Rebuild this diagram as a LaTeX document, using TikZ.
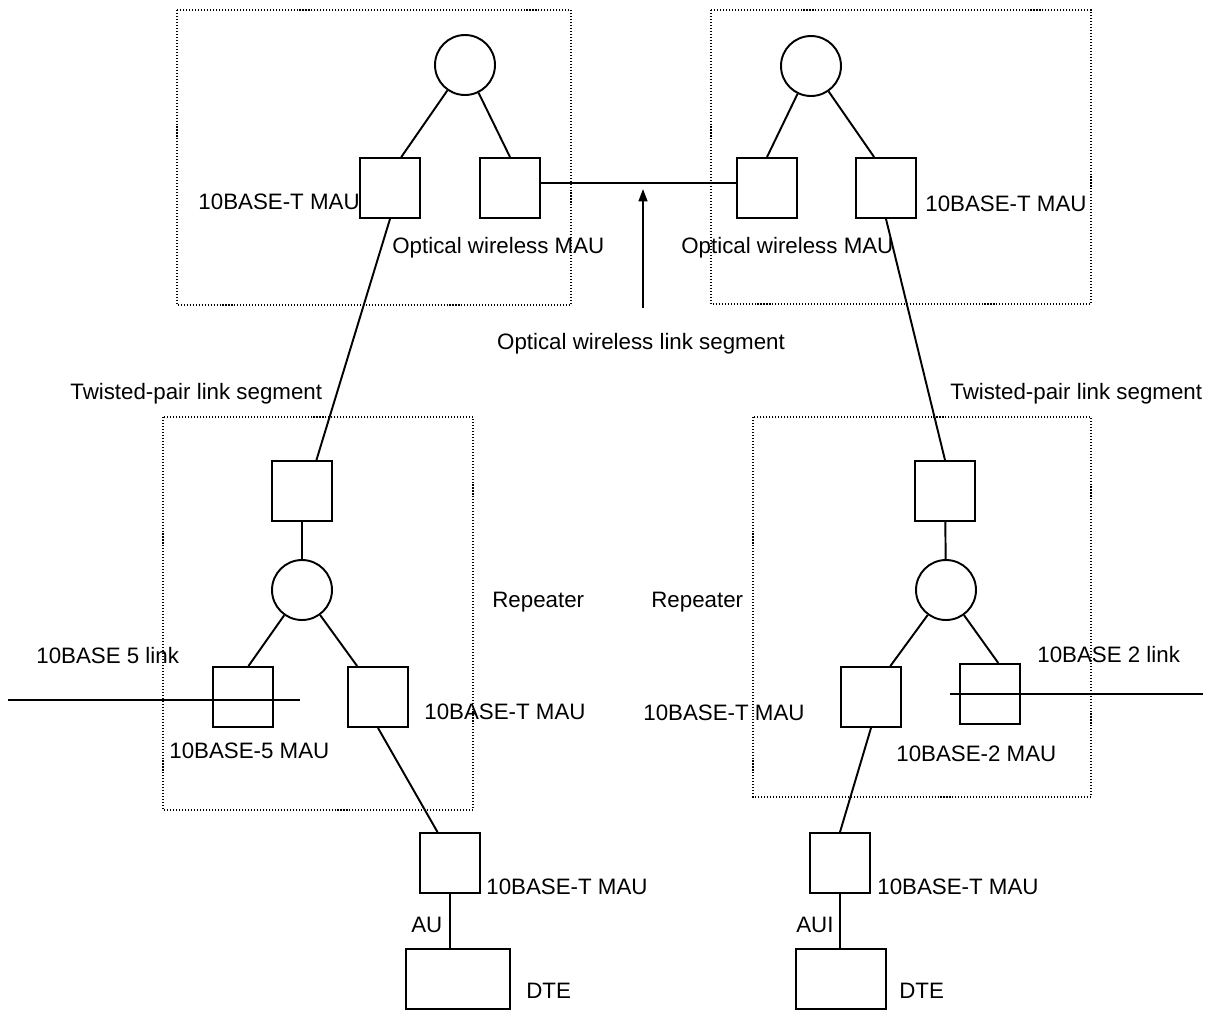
\documentclass[tikz,border=0pt]{standalone}
\usepackage{fontspec}
\setmainfont{Liberation Sans}
\usetikzlibrary{arrows.meta}

\begin{document}
\begin{tikzpicture}[x=0.02cm,y=-0.02cm,
	font=\fontsize{12.7}{15}\selectfont,
	mau/.style={draw,line width=1.1pt,minimum size=1.2cm,inner sep=0},
	hub/.style={draw,circle,line width=1.1pt,minimum size=1.2cm,inner sep=0},
	dte/.style={draw,line width=1.1pt,minimum height=1.2cm,inner sep=0},
	grp/.style={line width=0.6pt,dash pattern=on 0.6pt off 1.1pt},
	wire/.style={line width=1.1pt},
	lbl/.style={inner sep=0,anchor=west}]
	\useasboundingbox (0,0) rectangle (1215,1012);

	% dotted frames
	\draw[grp] (177,10) rectangle (571,305);
	\draw[grp] (711,10) rectangle (1091,304);
	\draw[grp] (163,417) rectangle (473,810);
	\draw[grp] (753,417) rectangle (1091,797);

	% upper pair
	\node[hub] (hubtl) at (465,65) {};
	\node[mau] (tpa) at (390,188) {};
	\node[mau] (owa) at (510,188) {};
	\node[hub] (hubtr) at (811,66) {};
	\node[mau] (owb) at (767,188) {};
	\node[mau] (tpb) at (886,188) {};

	% repeaters
	\node[mau] (reptl) at (302,491) {};
	\node[hub] (hubl) at (302,590) {};
	\node[mau] (thick) at (243,697) {};
	\node[mau] (reptlb) at (378,697) {};
	\node[mau] (reptr) at (945,491) {};
	\node[hub] (hubr) at (946,590) {};
	\node[mau] (reptrb) at (871,697) {};
	\node[mau] (thin) at (990,694) {};

	% stations
	\node[mau] (staa) at (450,863) {};
	\node[dte,minimum width=2.08cm] (dtea) at (458,979) {};
	\node[mau] (stab) at (840,863) {};
	\node[dte,minimum width=1.8cm] (dteb) at (841,979) {};

	\coordinate (wlfoot) at (643,308);
	\coordinate (wlhead) at (643,189);
	\coordinate (coaxa) at (8,700);
	\coordinate (coaxb) at (300,700);
	\coordinate (coaxc) at (950,694);
	\coordinate (coaxd) at (1203,694);

	\draw[wire] (hubtl) -- (tpa.70);
	\draw[wire] (hubtl) -- (owa.north);
	\draw[wire] (hubtr) -- (owb.north);
	\draw[wire] (hubtr) -- (tpb.111);
	\draw[wire] (owa.10) -- (owb.170);
	\draw[wire,-{Triangle[length=7pt,width=5pt]}] (wlfoot) -- (wlhead);
	\draw[wire] (tpa.south) -- (reptl.65);
	\draw[wire] (tpb.south) -- (reptr.north);
	\draw[wire] (reptl) -- (hubl);
	\draw[wire] (hubl) -- (thick.80);
	\draw[wire] (hubl) -- (reptlb.124);
	\draw[wire] (reptr) -- (hubr);
	\draw[wire] (hubr) -- (reptrb.58);
	\draw[wire] (hubr) -- (thin.75);
	\draw[wire] (coaxa) -- (coaxb);
	\draw[wire] (coaxc) -- (coaxd);
	\draw[wire] (reptlb.south) -- (staa.112);
	\draw[wire] (reptrb.south) -- (stab.north);
	\draw[wire] (staa.south) -- (staa.south |- dtea.north);
	\draw[wire] (stab.south) -- (stab.south |- dteb.north);

	% labels
	\node[lbl,anchor=east] (ltpa) at (360,202) {10BASE-T MAU};
	\node[lbl] (lowa) at (392,248) {Optical wireless MAU};
	\node[lbl] (lowb) at (681,248) {Optical wireless MAU};
	\node[lbl] (ltpb) at (925,204) {10BASE-T MAU};
	\node[lbl,anchor=center] (lwl) at (641,344) {Optical wireless link segment};
	\node[lbl] (ltwa) at (70,394) {Twisted-pair link segment};
	\node[lbl] (ltwb) at (950,394) {Twisted-pair link segment};
	\node[lbl] (lrpa) at (492,602) {Repeater};
	\node[lbl] (lrpb) at (651,602) {Repeater};
	\node[lbl] (lcxa) at (36,656) {10BASE 5 link};
	\node[lbl] (lthick) at (169,751) {10BASE-5 MAU};
	\node[lbl] (lrptl) at (424,712) {10BASE-T MAU};
	\node[lbl] (lcxb) at (1037,655) {10BASE 2 link};
	\node[lbl] (lthin) at (896,754) {10BASE-2 MAU};
	\node[lbl] (lrptr) at (643,713) {10BASE-T MAU};
	\node[lbl] (lstaa) at (486,887) {10BASE-T MAU};
	\node[lbl] (lstab) at (877,887) {10BASE-T MAU};
	\node[lbl] (laua) at (411,925) {AU};
	\node[lbl] (laub) at (796,925) {AUI};
	\node[lbl] (ldtea) at (526,991) {DTE};
	\node[lbl] (ldteb) at (899,991) {DTE};
\end{tikzpicture}
\end{document}
